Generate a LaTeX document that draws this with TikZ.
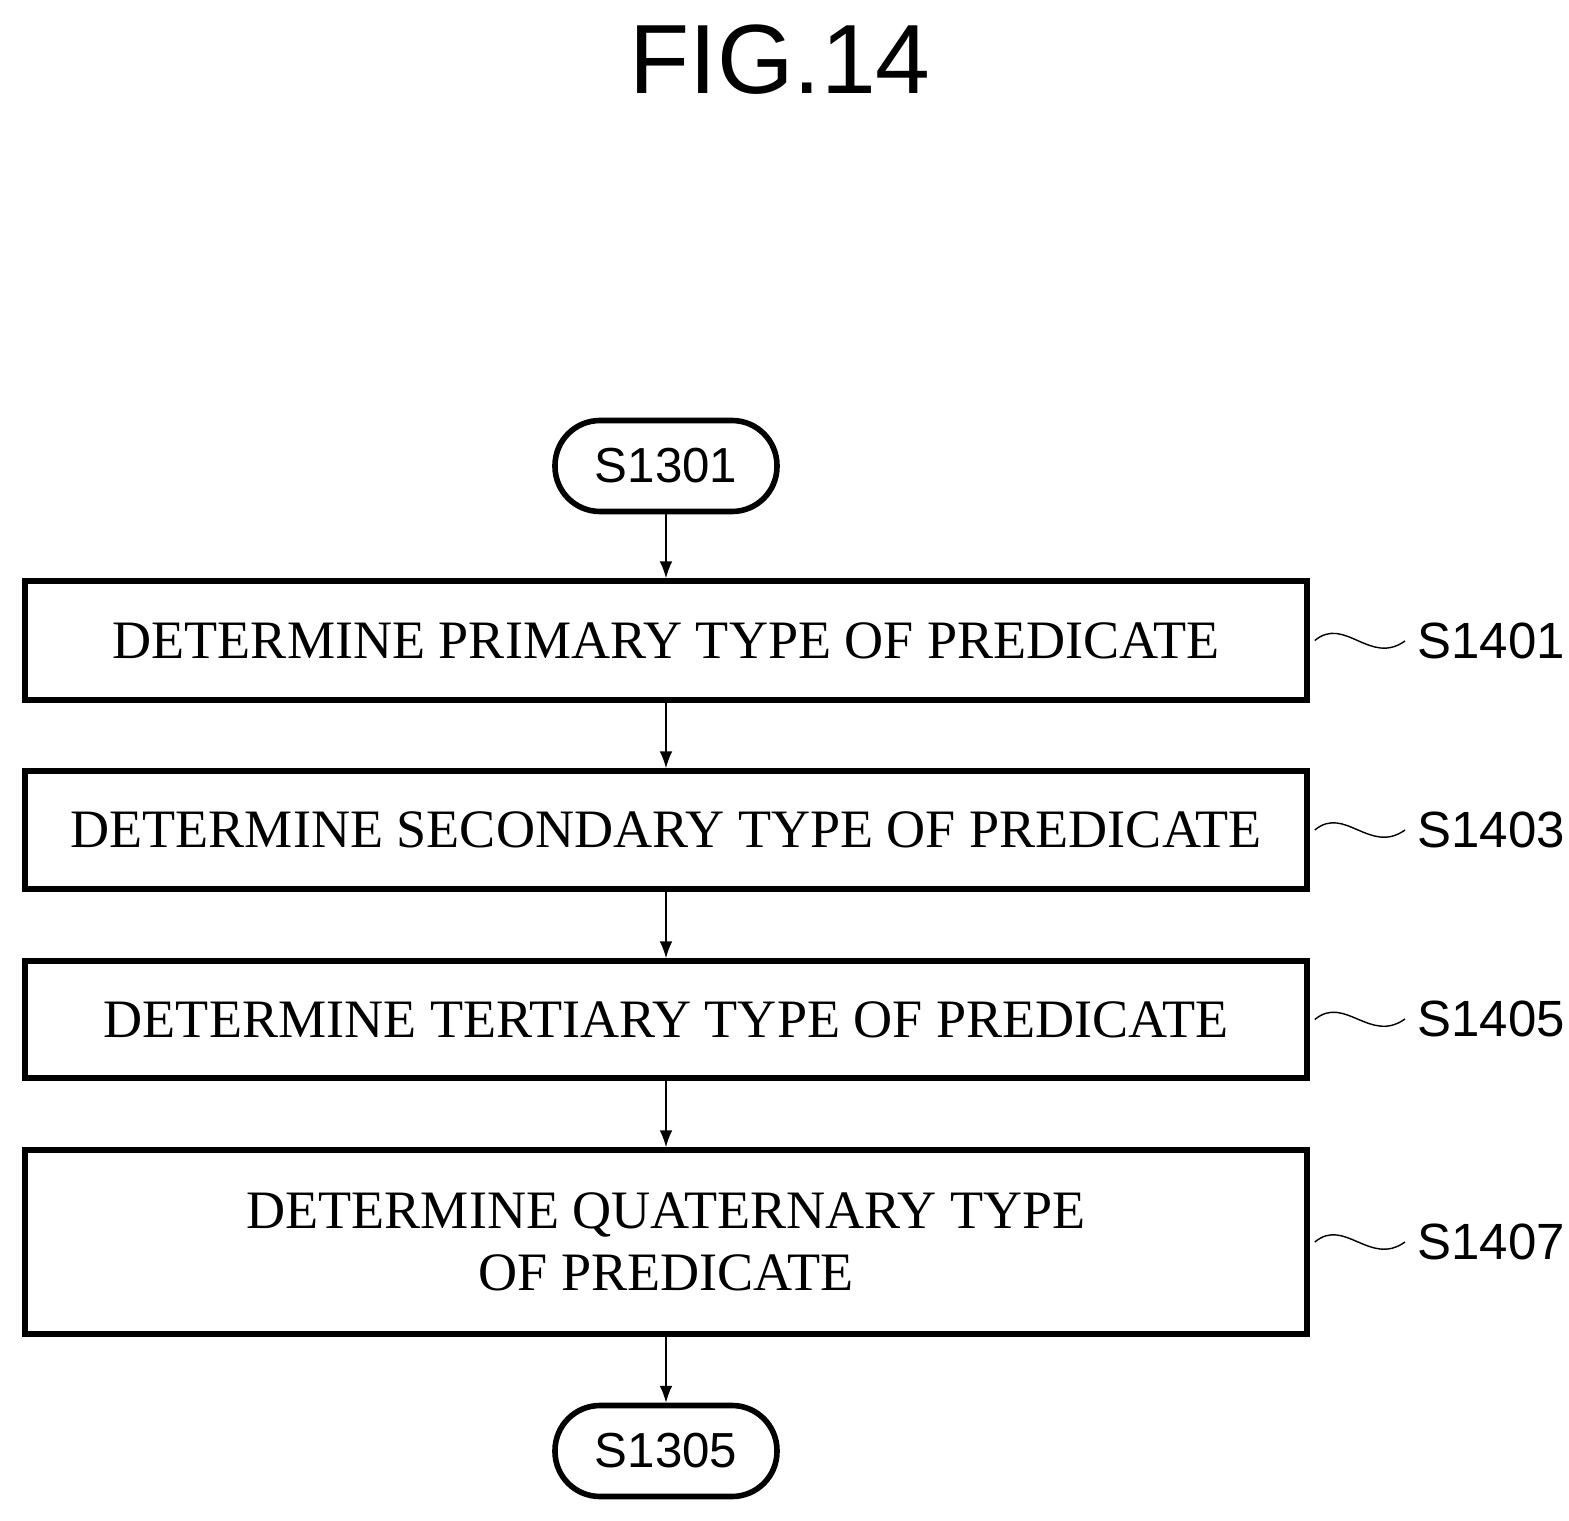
\documentclass[tikz,border=0pt]{standalone}
\usepackage{fontspec}
\setmainfont{Liberation Serif}
\setsansfont{Liberation Sans}
\usetikzlibrary{positioning, arrows.meta}

\begin{document}
\begin{tikzpicture}
                    [
                        stepbox/.style = {draw, shape=rectangle, minimum width=12.82cm, line width=1.6pt, font=\fontsize{15.4}{17.5}\selectfont, align=center},
                        term/.style = {draw, shape=rectangle, rounded corners=0.45cm, minimum height=0.91cm, minimum width=2.22cm, line width=1.6pt, font=\sffamily\fontsize{14}{16}\selectfont},
                        tag/.style = {font=\sffamily\fontsize{14.5}{16}\selectfont, anchor=west},
                    ]
                    \useasboundingbox (0,0) rectangle (15.69,-15.21);

                    \node (fig) at (7.8,-0.6) {\sffamily\fontsize{28}{32}\selectfont FIG.14};

                    \node[term] (s1301) at (6.66,-4.66) {S1301};

                    \node[stepbox, minimum height=1.19cm] (s1401) at (6.66,-6.405) {DETERMINE PRIMARY TYPE OF PREDICATE};
                    \node[stepbox, minimum height=1.18cm] (s1403) at (6.66,-8.30) {DETERMINE SECONDARY TYPE OF PREDICATE};
                    \node[stepbox, minimum height=1.17cm] (s1405) at (6.66,-10.195) {DETERMINE TERTIARY TYPE OF PREDICATE};
                    \node[stepbox, minimum height=1.84cm] (s1407) at (6.66,-12.42) {DETERMINE QUATERNARY TYPE\\OF PREDICATE};

                    \node[term] (s1305) at (6.66,-14.51) {S1305};

                    \node[tag] (t1401) at (14.05,-6.41) {S1401};
                    \node[tag] (t1403) at (14.05,-8.30) {S1403};
                    \node[tag] (t1405) at (14.05,-10.19) {S1405};
                    \node[tag] (t1407) at (14.05,-12.42) {S1407};

                    \draw [-Latex] (s1301) -- (s1401);
                    \draw [-Latex] (s1401) -- (s1403);
                    \draw [-Latex] (s1403) -- (s1405);
                    \draw [-Latex] (s1405) -- (s1407);
                    \draw [-Latex] (s1407) -- (s1305);

                    \foreach \n in {1401,1403,1405,1407}
                        \draw (s\n.east) ++(0.05,0) .. controls +(0.3,0.25) and +(-0.35,-0.25) .. (t\n.west);
                \end{tikzpicture}
\end{document}
